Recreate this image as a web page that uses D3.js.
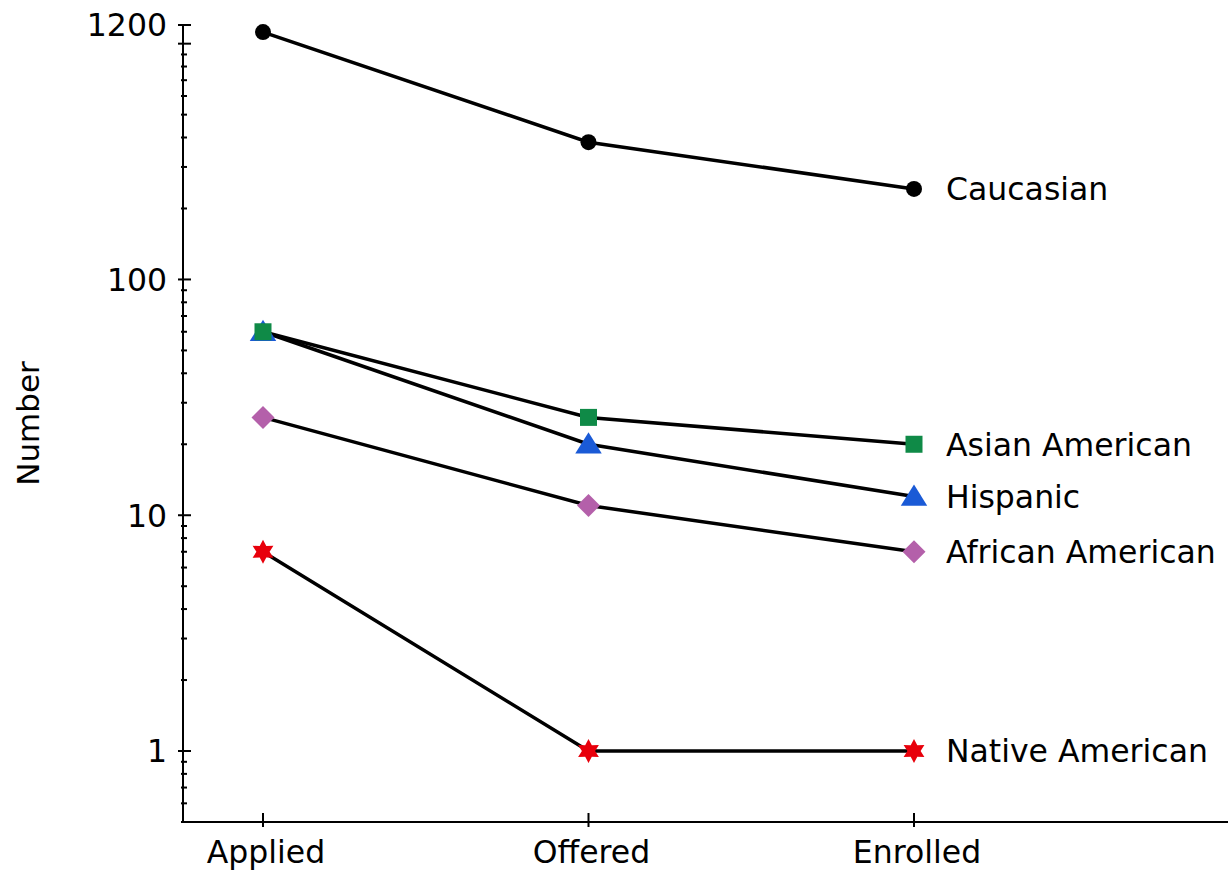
<!DOCTYPE html>
<html>
<head>
<meta charset="utf-8">
<script src="https://cdn.jsdelivr.net/npm/d3@7"></script>
<style>
  html, body { margin: 0; padding: 0; background: #fff; }
  svg { display: block; }
  text { font-family: "DejaVu Sans", Verdana, sans-serif; fill: #000; }
</style>
</head>
<body>
<svg id="chart" width="1228" height="875"></svg>
<script>
// Admission stages along the x axis
const stages = ["Applied", "Offered", "Enrolled"];

// Counts per group at each stage
const caucasian       = [1120, 382, 242];
const asianAmerican   = [60, 26, 20];
const hispanic        = [60, 20, 12];
const africanAmerican = [26, 11, 7];
const nativeAmerican  = [7, 1, 1];

// Group names, in drawing order
const groupNames = ["Caucasian", "Asian American", "Hispanic", "African American", "Native American"];
const groupValues = [caucasian, asianAmerican, hispanic, africanAmerican, nativeAmerican];
const groupColors = ["#000000", "#0f8a47", "#1a5ad6", "#b460aa", "#e8000b"];

// Labelled y ticks
const yTickLabels = [1, 10, 100, 1200];

const svg = d3.select("#chart");

const x = d3.scalePoint().domain(stages).range([263, 914]);
const y = d3.scaleLog().domain([0.5, 1200]).range([822, 25]);

const axisX0 = 183;
const axisX1 = 1228;
const axisY = 822;

// Marker shapes (size is treated as a half-extent in pixels)
const circleSym = { draw(ctx, r) { ctx.moveTo(r, 0); ctx.arc(0, 0, r, 0, 2 * Math.PI); } };
const squareSym = { draw(ctx, r) { ctx.rect(-r, -r, 2 * r, 2 * r); } };
const triangleSym = { draw(ctx, r) {
  ctx.moveTo(0, -r * 1.05); ctx.lineTo(r * 1.15, r * 0.8); ctx.lineTo(-r * 1.15, r * 0.8); ctx.closePath();
} };
const diamondSym = { draw(ctx, r) {
  ctx.moveTo(0, -r); ctx.lineTo(r, 0); ctx.lineTo(0, r); ctx.lineTo(-r, 0); ctx.closePath();
} };
const star6Sym = { draw(ctx, r) {
  const inner = r * 0.55;
  for (let i = 0; i < 12; i++) {
    const a = -Math.PI / 2 + i * Math.PI / 6;
    const rr = i % 2 === 0 ? r : inner;
    const px = rr * Math.cos(a), py = rr * Math.sin(a);
    if (i === 0) ctx.moveTo(px, py); else ctx.lineTo(px, py);
  }
  ctx.closePath();
} };
const groupSymbols = [circleSym, squareSym, triangleSym, diamondSym, star6Sym];
const groupSizes = [8, 8.5, 11.5, 11.5, 12];
// markers are painted in this order so the square sits over the triangle
const markerOrder = [0, 2, 1, 3, 4];

// ---- Axes ----
const axisG = svg.append("g").attr("stroke", "#000").attr("stroke-width", 2);

// y axis line
axisG.append("line")
  .attr("x1", axisX0).attr("x2", axisX0)
  .attr("y1", y(1200)).attr("y2", axisY);

// x axis line
axisG.append("line")
  .attr("x1", axisX0).attr("x2", axisX1)
  .attr("y1", axisY).attr("y2", axisY);

// log ticks: majors at powers of ten and the top value, minors between
const minorTicks = [];
for (let d = 0.1; d <= 1000; d *= 10) {
  for (let m = 1; m <= 9; m++) {
    const v = +(m * d).toPrecision(3);
    if (v >= 0.5 && v <= 1200) minorTicks.push(v);
  }
}
const majorTicks = [1, 10, 100, 1000, 1200];

axisG.selectAll("line.minor")
  .data(minorTicks.filter(v => !majorTicks.includes(v)))
  .join("line")
  .attr("class", "minor")
  .attr("x1", axisX0 - 2).attr("x2", axisX0 + 4)
  .attr("y1", d => y(d)).attr("y2", d => y(d));

axisG.selectAll("line.major")
  .data(majorTicks)
  .join("line")
  .attr("class", "major")
  .attr("x1", axisX0 - 5).attr("x2", axisX0 + 8)
  .attr("y1", d => y(d)).attr("y2", d => y(d));

// x ticks
axisG.selectAll("line.xtick")
  .data(stages)
  .join("line")
  .attr("class", "xtick")
  .attr("x1", d => x(d)).attr("x2", d => x(d))
  .attr("y1", axisY - 9).attr("y2", axisY + 5);

// y tick labels
svg.append("g").selectAll("text")
  .data(yTickLabels)
  .join("text")
  .attr("x", 167)
  .attr("y", d => y(d))
  .attr("dy", "0.36em")
  .attr("text-anchor", "end")
  .attr("font-size", 31.5)
  .text(d => d);

// x tick labels
svg.append("g").selectAll("text")
  .data(stages)
  .join("text")
  .attr("x", d => x(d) + 3)
  .attr("y", 863)
  .attr("text-anchor", "middle")
  .attr("font-size", 31.5)
  .text(d => d);

// y axis title
svg.append("text")
  .attr("transform", `translate(39, ${y(Math.sqrt(0.5 * 1200))}) rotate(-90)`)
  .attr("text-anchor", "middle")
  .attr("font-size", 31)
  .text("Number");

// ---- Series ----
const line = d3.line()
  .x((d, i) => x(stages[i]))
  .y(d => y(d));

const series = svg.append("g");

groupValues.forEach(vals => {
  series.append("path")
    .attr("d", line(vals))
    .attr("fill", "none")
    .attr("stroke", "#000")
    .attr("stroke-width", 3.5);
});

markerOrder.forEach(gi => {
  const vals = groupValues[gi];
  const sym = d3.symbol().type(groupSymbols[gi]).size(groupSizes[gi]);
  series.append("g").selectAll("path")
    .data(vals)
    .join("path")
    .attr("transform", (d, i) => `translate(${x(stages[i])}, ${y(d)})`)
    .attr("d", sym())
    .attr("fill", groupColors[gi]);
});

// end-of-line group labels
svg.append("g").selectAll("text")
  .data(groupNames)
  .join("text")
  .attr("x", 946)
  .attr("y", (d, gi) => y(groupValues[gi][stages.length - 1]))
  .attr("dy", "0.36em")
  .attr("font-size", 31.5)
  .text(d => d);
</script>
</body>
</html>
